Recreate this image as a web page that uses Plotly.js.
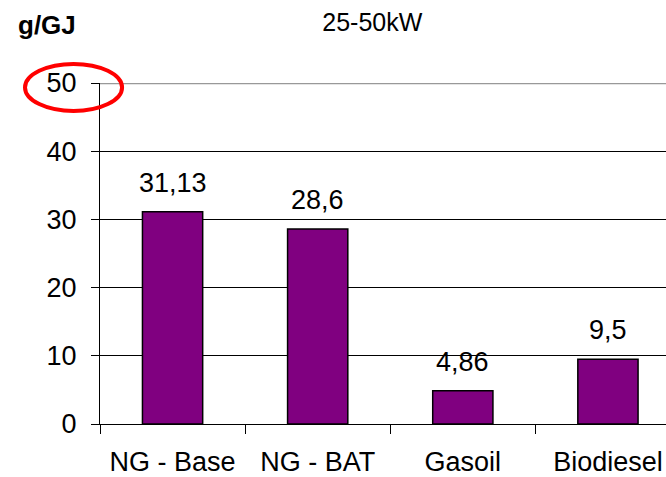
<!DOCTYPE html>
<html>
<head>
<meta charset="utf-8">
<script src="https://cdn.plot.ly/plotly-3.0.1.min.js"></script>
<style>html,body{margin:0;padding:0;background:#fff}#chart{width:666px;height:477px}</style>
</head>
<body>
<div id="chart"></div>
<script>
const categories = ['NG - Base', 'NG - BAT', 'Gasoil', 'Biodiesel'];
const values = [31.13, 28.6, 4.86, 9.5];
const valueLabels = ['31,13', '28,6', '4,86', '9,5'];
const yTickValues = [0, 10, 20, 30, 40, 50];
const chartTitle = '25-50kW';
const unitLabel = 'g/GJ';

const FONT = 'Liberation Sans, Arial, sans-serif';

const trace = {
  type: 'bar',
  x: categories,
  y: values,
  marker: {color: '#800080', line: {color: '#000', width: 1.5}},
  hoverinfo: 'none'
};

const annotations = categories.map((c, i) => ({
  x: c, y: values[i], xref: 'x', yref: 'y',
  text: valueLabels[i], showarrow: false,
  xanchor: 'center', yanchor: 'bottom', yshift: 12,
  font: {family: FONT, size: 27, color: '#000'}
}));
annotations.push({
  text: '<b>' + unitLabel + '</b>', xref: 'paper', yref: 'paper',
  x: -0.148, y: 1.219, xanchor: 'left', yanchor: 'top', showarrow: false,
  font: {family: FONT, size: 26, color: '#000'}
});

const layout = {
  width: 666, height: 477,
  margin: {l: 100, r: 0, t: 83, b: 53},
  paper_bgcolor: '#fff', plot_bgcolor: 'rgba(0,0,0,0)',
  showlegend: false,
  bargap: 0.585,
  title: {
    text: chartTitle, x: 0.559, xanchor: 'center', xref: 'container',
    y: 0.972, yanchor: 'top', yref: 'container',
    font: {family: FONT, size: 25, color: '#000'}
  },
  xaxis: {
    type: 'category', range: [-0.5, 3.4],
    showline: true, linecolor: '#000', linewidth: 1,
    ticks: 'outside', tickson: 'boundaries', ticklen: 9, tickcolor: '#000', tickwidth: 1,
    ticklabelstandoff: 14,
    tickfont: {family: FONT, size: 27, color: '#000'},
    showgrid: false, zeroline: false, fixedrange: true
  },
  yaxis: {
    range: [0, 50], tickvals: yTickValues, ticktext: yTickValues.map(String),
    showline: true, linecolor: '#000', linewidth: 1,
    ticks: 'outside', ticklen: 8, tickcolor: '#000', tickwidth: 1,
    ticklabelstandoff: 9,
    tickfont: {family: FONT, size: 27, color: '#000'},
    showgrid: true, gridcolor: '#000', gridwidth: 1,
    zeroline: false, fixedrange: true
  },
  shapes: [
    {type: 'line', xref: 'paper', yref: 'y', x0: 0, x1: 1, y0: 50, y1: 50,
     line: {color: '#999', width: 2.5}, layer: 'above'},
    {type: 'circle', xref: 'paper', yref: 'paper',
     x0: -0.1325, x1: 0.039, y0: 0.918, y1: 1.056,
     line: {color: '#ff0000', width: 4}, layer: 'above'}
  ],
  annotations: annotations
};

Plotly.newPlot('chart', [trace], layout, {staticPlot: true, displayModeBar: false});
</script>
</body>
</html>
